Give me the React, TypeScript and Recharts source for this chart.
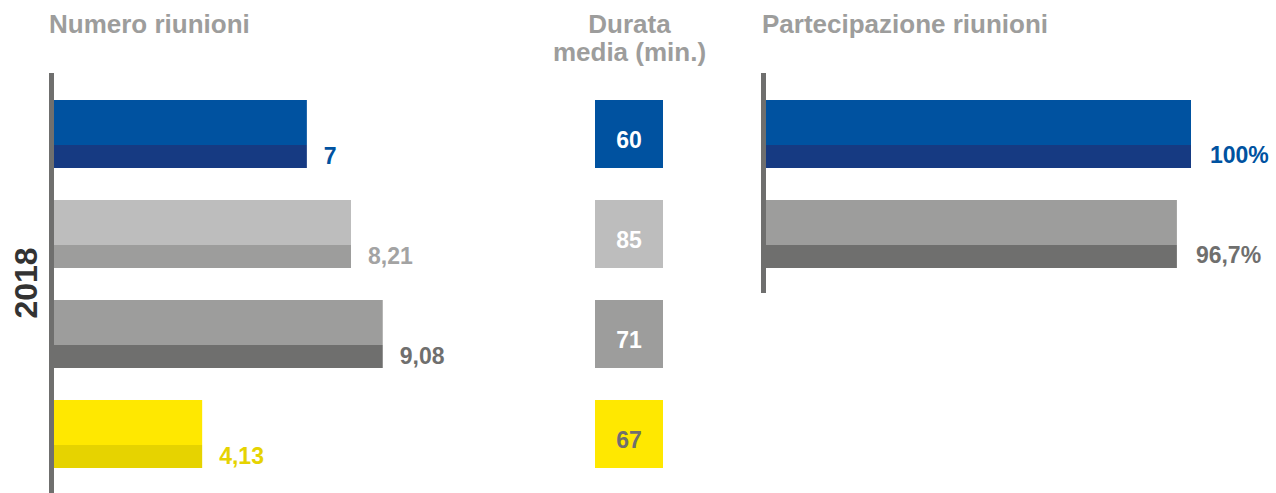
import React from 'react';
import { BarChart, Bar, XAxis, YAxis, LabelList } from 'recharts';

// dati (anno 2018)
const categorie = ['Cat. 1', 'Cat. 2', 'Cat. 3', 'Cat. 4'];
const numeroRiunioni = [7, 8.21, 9.08, 4.13];
const durataMedia = [60, 85, 71, 67];
const categoriePartecipazione = ['Cat. 1', 'Cat. 3'];
const partecipazione = [100, 96.7];

const TOP = ['#0052a0', '#bdbdbd', '#9d9d9c', '#ffe800'];
const BOTTOM = ['#163a82', '#9d9d9c', '#6f6f6e', '#e6d300'];
const LABEL = ['#0052a0', '#a3a3a3', '#6f6f6e', '#e6d300'];
const SQUARE_TEXT = ['#ffffff', '#ffffff', '#ffffff', '#6f6f6e'];

const TOP_P = ['#0052a0', '#9d9d9c'];
const BOTTOM_P = ['#163a82', '#6f6f6e'];
const LABEL_P = ['#0052a0', '#6f6f6e'];

const FONT = '"Liberation Sans", Arial, sans-serif';
const AXIS = '#6f6f6e';

const numeroData = categorie.map((name, i) => ({ name, value: numeroRiunioni[i] }));
const durataData = categorie.map((name, i) => ({ name, value: durataMedia[i] }));
const partData = categoriePartecipazione.map((name, i) => ({ name, value: partecipazione[i] }));

const comma = (v: number) => String(v).replace('.', ',');

const twoTone = (top: string[], bottom: string[]) => (props: any) => {
  const { x, y, width, height, index } = props;
  const h1 = (height * 45) / 68;
  return (
    <g>
      <rect x={x} y={y} width={width} height={h1} fill={top[index]} />
      <rect x={x} y={y + h1} width={width} height={height - h1} fill={bottom[index]} />
    </g>
  );
};

const sideLabel = (colors: string[], suffix: string, dx: number, dy: number) => (props: any) => {
  const { x, y, width, height, value, index } = props;
  return (
    <text
      x={x + width + dx}
      y={y + height - dy}
      fill={colors[index]}
      fontFamily={FONT}
      fontWeight="bold"
      fontSize={23}
    >
      {comma(value) + suffix}
    </text>
  );
};

const Square = (props: any) => {
  const { x, y, height, index } = props;
  return <rect x={x} y={y} width={height} height={height} fill={TOP[index]} />;
};

const squareLabel = (props: any) => {
  const { x, y, height, value, index } = props;
  return (
    <text
      x={x + height / 2}
      y={y + 48}
      textAnchor="middle"
      fill={SQUARE_TEXT[index]}
      fontFamily={FONT}
      fontWeight="bold"
      fontSize={23}
    >
      {value}
    </text>
  );
};

const titleStyle = { fontFamily: FONT, fontWeight: 'bold' as const, fontSize: 26, fill: '#9d9d9c' };

export default function App() {
  return (
    <div style={{ position: 'absolute', left: 0, top: 0, width: 1276, height: 493, background: '#fff', overflow: 'hidden' }}>
      <svg width={1276} height={493} style={{ position: 'absolute', left: 0, top: 0 }}>
        <text x={49} y={33} {...titleStyle}>Numero riunioni</text>
        <text x={629.5} y={33} textAnchor="middle" {...titleStyle}>Durata</text>
        <text x={629.5} y={61} textAnchor="middle" {...titleStyle}>media (min.)</text>
        <text x={762} y={33} {...titleStyle}>Partecipazione riunioni</text>
        <text
          transform="translate(36.5,283) rotate(-90)"
          textAnchor="middle"
          fontFamily={FONT}
          fontWeight="bold"
          fontSize={32}
          fill="#333333"
        >
          2018
        </text>
      </svg>

      <div style={{ position: 'absolute', left: 0, top: 0 }}>
        <BarChart
          width={460}
          height={493}
          data={numeroData}
          layout="vertical"
          barSize={68}
          margin={{ top: 73, right: 43.7, bottom: 0, left: 0 }}
        >
          <XAxis type="number" domain={[0, 10]} hide />
          <YAxis
            type="category"
            dataKey="name"
            width={51.5}
            tick={false}
            tickLine={false}
            axisLine={{ stroke: AXIS, strokeWidth: 5 }}
            padding={{ top: 11, bottom: 9 }}
          />
          <Bar dataKey="value" shape={twoTone(TOP, BOTTOM)} isAnimationActive={false}>
            <LabelList dataKey="value" content={sideLabel(LABEL, '', 17, 4)} />
          </Bar>
        </BarChart>
      </div>

      <div style={{ position: 'absolute', left: 595, top: 0 }}>
        <BarChart
          width={69}
          height={493}
          data={durataData}
          layout="vertical"
          barSize={68}
          margin={{ top: 73, right: 0, bottom: 0, left: 0 }}
        >
          <XAxis type="number" domain={[0, 100]} hide />
          <YAxis type="category" dataKey="name" hide padding={{ top: 11, bottom: 9 }} />
          <Bar dataKey="value" shape={Square} isAnimationActive={false}>
            <LabelList dataKey="value" content={squareLabel} />
          </Bar>
        </BarChart>
      </div>

      <div style={{ position: 'absolute', left: 700, top: 0 }}>
        <BarChart
          width={576}
          height={293}
          data={partData}
          layout="vertical"
          barSize={68}
          margin={{ top: 73, right: 85, bottom: 0, left: 0 }}
        >
          <XAxis type="number" domain={[0, 100]} hide />
          <YAxis
            type="category"
            dataKey="name"
            width={63.5}
            tick={false}
            tickLine={false}
            axisLine={{ stroke: AXIS, strokeWidth: 5 }}
            padding={{ top: 11, bottom: 9 }}
          />
          <Bar dataKey="value" shape={twoTone(TOP_P, BOTTOM_P)} isAnimationActive={false}>
            <LabelList dataKey="value" content={sideLabel(LABEL_P, '%', 19, 5)} />
          </Bar>
        </BarChart>
      </div>
    </div>
  );
}
